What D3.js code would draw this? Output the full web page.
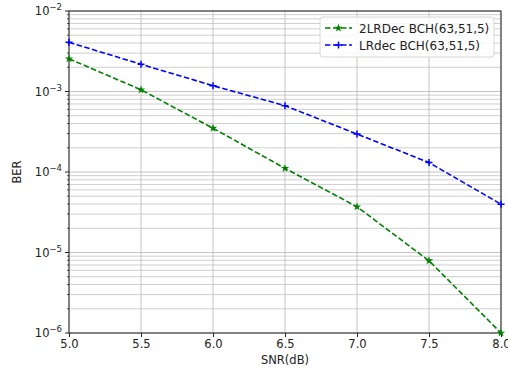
<!DOCTYPE html>
<html><head><meta charset="utf-8">
<script src="https://cdn.jsdelivr.net/npm/d3@7"></script>
<style>body{margin:0;background:#fff}svg{display:block}text{font-family:"DejaVu Sans",sans-serif}</style>
</head><body>
<svg id="c" width="508" height="372"></svg>
<script>
const snr = [5.0, 5.5, 6.0, 6.5, 7.0, 7.5, 8.0];
const ber2LR = [2.55e-3, 1.05e-3, 3.5e-4, 1.11e-4, 3.7e-5, 7.9e-6, 1.0e-6];
const berLR = [4.08e-3, 2.18e-3, 1.18e-3, 6.67e-4, 2.96e-4, 1.31e-4, 3.98e-5];
const xTicks = [5.0, 5.5, 6.0, 6.5, 7.0, 7.5, 8.0];
const yExps = [-6, -5, -4, -3, -2];
const seriesNames = ["2LRDec BCH(63,51,5)", "LRdec BCH(63,51,5)"];

const svg = d3.select("#c");
const L = 69, R = 501, T = 11, B = 333;
const x = d3.scaleLinear().domain([5, 8]).range([L, R]);
const y = d3.scaleLog().domain([1e-6, 1e-2]).range([B, T]);

// minor ticks
const minor = [];
for (let e = -6; e < -2; e++) for (let m = 2; m <= 9; m++) minor.push(m * Math.pow(10, e));

const grid = svg.append("g");
grid.selectAll("line.ym").data(minor).join("line")
  .attr("x1", L).attr("x2", R).attr("y1", d => y(d)).attr("y2", d => y(d))
  .attr("stroke", "#cfcfcf").attr("stroke-width", 1);
grid.selectAll("line.yM").data(yExps).join("line")
  .attr("x1", L).attr("x2", R).attr("y1", d => y(Math.pow(10, d))).attr("y2", d => y(Math.pow(10, d)))
  .attr("stroke", "#c4c4c4").attr("stroke-width", 1);
grid.selectAll("line.x").data(xTicks).join("line")
  .attr("x1", d => x(d)).attr("x2", d => x(d)).attr("y1", T).attr("y2", B)
  .attr("stroke", "#c4c4c4").attr("stroke-width", 1);

// axes
const xAxis = d3.axisBottom(x).tickValues(xTicks).tickFormat(d3.format(".1f")).tickSize(4).tickPadding(3);
const gx = svg.append("g").attr("transform", `translate(0,${B})`).call(xAxis);
gx.select(".domain").remove();
gx.selectAll("text").attr("font-size", 11.5).attr("fill", "#222").attr("font-family", "DejaVu Sans");
gx.selectAll("line").attr("stroke", "#222");

const gy = svg.append("g").attr("transform", `translate(${L},0)`);
gy.selectAll("line.maj").data(yExps).join("line")
  .attr("x1", -4).attr("x2", 0).attr("y1", d => y(Math.pow(10, d))).attr("y2", d => y(Math.pow(10, d)))
  .attr("stroke", "#222");
gy.selectAll("line.min").data(minor).join("line")
  .attr("x1", -2).attr("x2", 0).attr("y1", d => y(d)).attr("y2", d => y(d))
  .attr("stroke", "#222").attr("stroke-width", 0.8);
const lbl = gy.selectAll("text.yl").data(yExps).join("text")
  .attr("x", -7).attr("y", d => y(Math.pow(10, d)) + 4)
  .attr("text-anchor", "end").attr("font-size", 11.5).attr("fill", "#222");
lbl.append("tspan").text("10");
lbl.append("tspan").attr("dy", -5).attr("font-size", 8.5).text(d => "\u2212" + Math.abs(d));

// frame
svg.append("rect").attr("x", L).attr("y", T).attr("width", R - L).attr("height", B - T)
  .attr("fill", "none").attr("stroke", "#222").attr("stroke-width", 1);

// axis labels
svg.append("text").attr("x", (L + R) / 2).attr("y", 364).attr("text-anchor", "middle")
  .attr("font-size", 11.5).attr("fill", "#222").text("SNR(dB)");
svg.append("text").attr("transform", `translate(21,${(T + B) / 2}) rotate(-90)`).attr("text-anchor", "middle")
  .attr("font-size", 11.5).attr("fill", "#222").text("BER");

// lines
const line = d3.line().x(d => x(d[0])).y(d => y(d[1]));
svg.append("clipPath").attr("id", "clp").append("rect")
  .attr("x", L - 6).attr("y", T - 6).attr("width", R - L + 12).attr("height", B - T + 12);
const plot = svg.append("g").attr("clip-path", "url(#clp)");
const d2 = snr.map((s, i) => [s, ber2LR[i]]);
const d1 = snr.map((s, i) => [s, berLR[i]]);
plot.append("path").datum(d2).attr("d", line).attr("fill", "none").attr("stroke", "#008000")
  .attr("stroke-width", 1.6).attr("stroke-dasharray", "5.5,2.5");
plot.append("path").datum(d1).attr("d", line).attr("fill", "none").attr("stroke", "#0000ff")
  .attr("stroke-width", 1.6).attr("stroke-dasharray", "5.5,2.5");

const star = d3.symbol().type(d3.symbolStar).size(22);
plot.selectAll("path.st").data(d2).join("path")
  .attr("transform", d => `translate(${x(d[0])},${y(d[1])})`).attr("d", star).attr("fill", "#008000");
const plus = "M-3.5,0H3.5M0,-3.5V3.5";
plot.selectAll("path.pl").data(d1).join("path")
  .attr("transform", d => `translate(${x(d[0])},${y(d[1])})`).attr("d", plus)
  .attr("stroke", "#0000ff").attr("stroke-width", 1.5).attr("fill", "none");

// legend
const lg = svg.append("g");
lg.append("rect").attr("x", 320).attr("y", 17).attr("width", 174).attr("height", 40).attr("rx", 3)
  .attr("fill", "#fff").attr("fill-opacity", 0.85).attr("stroke", "#d6d6d6");
const cols = ["#008000", "#0000ff"];
seriesNames.forEach((n, i) => {
  const yy = 28 + i * 17;
  lg.append("line").attr("x1", 325).attr("x2", 352).attr("y1", yy).attr("y2", yy)
    .attr("stroke", cols[i]).attr("stroke-width", 1.6).attr("stroke-dasharray", "5.5,2.5");
  if (i === 0) lg.append("path").attr("transform", `translate(338.5,${yy})`).attr("d", star).attr("fill", cols[i]);
  else lg.append("path").attr("transform", `translate(338.5,${yy})`).attr("d", plus).attr("stroke", cols[i]).attr("stroke-width", 1.5);
  lg.append("text").attr("x", 359).attr("y", yy + 4.5).attr("font-size", 12).attr("fill", "#222").text(n);
});
</script>
</body></html>
